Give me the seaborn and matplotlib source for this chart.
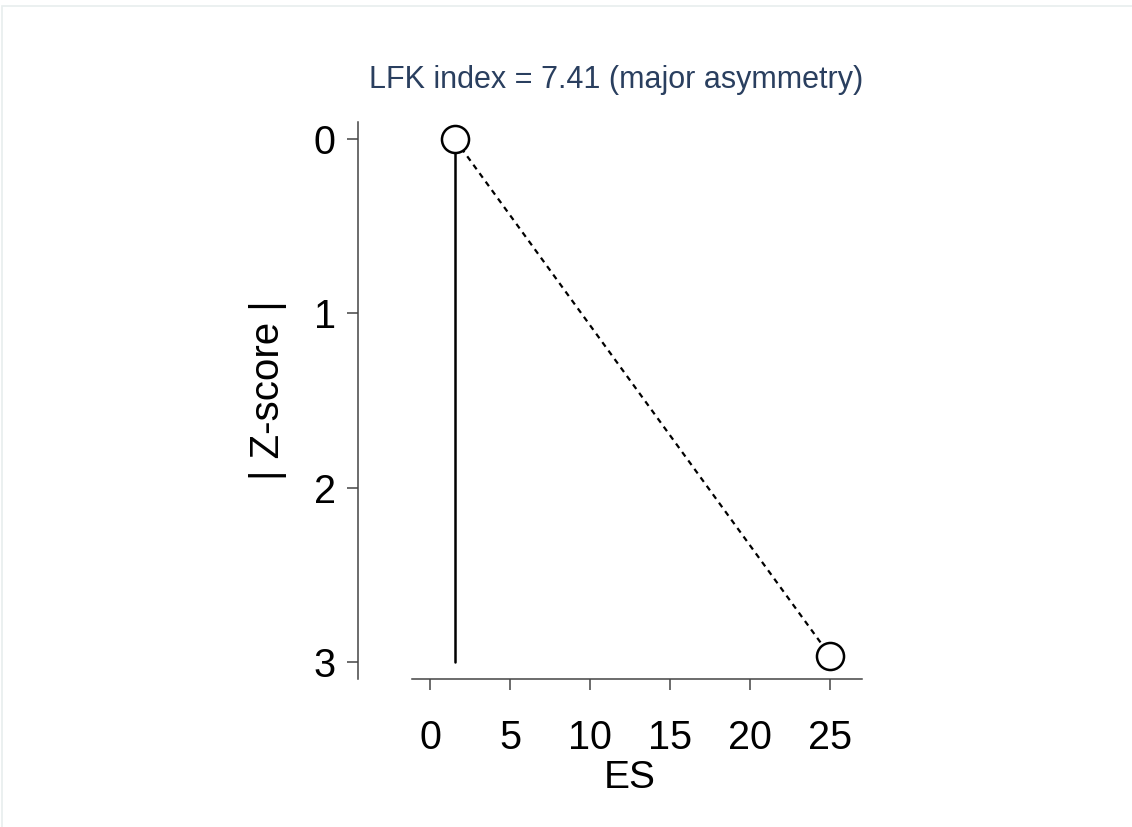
import matplotlib
matplotlib.use("Agg")
import matplotlib.pyplot as plt
import seaborn as sns
import pandas as pd

# data
es = [1.56, 25.0]
zscore = [0.0, 2.965]
ref_x = [1.56, 1.56]
ref_y = [0.0, 3.0]
x_ticks = [0, 5, 10, 15, 20, 25]
y_ticks = [0, 1, 2, 3]
title = "LFK index = 7.41 (major asymmetry)"

sns.set_theme(style="ticks")
plt.rcParams["font.family"] = ["Liberation Sans", "DejaVu Sans"]

df = pd.DataFrame({"ES": es, "Z": zscore})
ref = pd.DataFrame({"x": ref_x, "y": ref_y})

fig = plt.figure(figsize=(11.32, 8.27), dpi=100)
ax = fig.add_axes([412 / 1132, 1 - 679 / 827, 450 / 1132, 557 / 827])

# vertical reference line at the most precise study
sns.lineplot(data=ref, x="x", y="y", sort=False, estimator=None, color="black",
             linewidth=1.8, ax=ax)
# dashed line joining the points
sns.lineplot(data=df, x="ES", y="Z", sort=False, estimator=None, color="black",
             linewidth=1.6, linestyle=(0, (2.5, 2.2)), ax=ax)
sns.scatterplot(data=df, x="ES", y="Z", s=380, facecolor="white", edgecolor="black",
                linewidth=1.8, zorder=5, clip_on=False, ax=ax)

ax.set_xlim(-1.125, 27.0)
ax.set_ylim(3.1, -0.1)
ax.set_xticks(x_ticks)
ax.set_yticks(y_ticks)

sns.despine(ax=ax)
ax.spines["left"].set_position(("outward", 54 * 72 / 100))
for s in ["left", "bottom"]:
    ax.spines[s].set_color("#444444")
    ax.spines[s].set_linewidth(1.1)

ax.tick_params(axis="both", colors="#444444", width=1.1, length=8, labelsize=28.5,
               labelcolor="black")
ax.tick_params(axis="x", pad=21)
ax.tick_params(axis="y", pad=8)

ax.set_xlabel("ES", fontsize=28, labelpad=0, color="black")
ax.xaxis.set_label_coords(0.484, -0.146)
ax.set_ylabel("| Z-score |", fontsize=29, color="black")
ax.yaxis.set_label_coords(-0.278, 0.519)

fig.text(616 / 1132, 1 - 80 / 827, title, ha="center", va="center",
         fontsize=22, color="#2a3f5f")

# faint frame around the figure
fig.patches.append(plt.Rectangle((2 / 1132, -0.1), 1.2, 1 - 6 / 827 + 0.1,
                                 transform=fig.transFigure, fill=False,
                                 edgecolor="#e8eeee", linewidth=1.2))

fig.savefig("out.png", dpi=100)
